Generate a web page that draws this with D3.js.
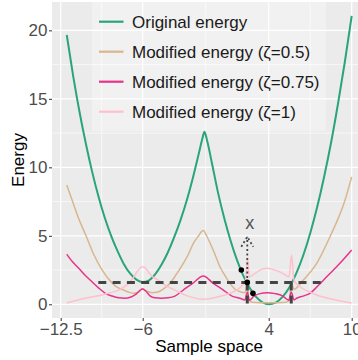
<!DOCTYPE html>
<html>
<head>
<meta charset="utf-8">
<script src="https://cdn.jsdelivr.net/npm/d3@7"></script>
<style>
body { margin: 0; background: #fff; }
svg { display: block; font-family: "Liberation Sans", Arial, sans-serif; }
</style>
</head>
<body>
<svg id="chart"></svg>
<script>
// ticks
var xTicks = [-12.5, -6, 4, 10]
var xMinor = [-9.25, -1, 7]
var yTicks = [0, 5, 10, 15, 20]
var yMinor = [2.5, 7.5, 12.5, 17.5]

// original energy
var origX = [-12.02, -11.5, -11, -10.5, -10, -9.5, -9, -8.5, -8, -7.5, -7, -6.5, -6, -5.5, -5, -4.5, -4, -3.5, -3, -2.5, -2, -1.5, -1.25, -1.1, -0.9, -0.5, 0, 0.5, 1, 1.5, 2, 2.5, 3, 3.5, 4, 4.5, 5, 5.5, 6, 6.5, 7, 7.5, 8, 8.5, 9, 9.5, 10]
var origY = [19.66, 16.6, 14.0, 11.7, 9.65, 7.85, 6.3, 5.0, 3.9, 2.95, 2.25, 1.8, 1.62, 1.75, 2.2, 2.9, 3.8, 4.9, 6.15, 7.6, 9.3, 11.2, 12.15, 12.6, 12.0, 10.28, 8.06, 6.19, 4.57, 3.19, 2.06, 1.18, 0.54, 0.15, 0.0, 0.12, 0.54, 1.25, 2.28, 3.58, 5.19, 7.08, 9.28, 11.76, 14.59, 17.67, 21.05]

// modified energy zeta = 0.5
var z05X = [-12.02, -11.6, -11.05, -10.49, -9.86, -9.21, -8.47, -8.04, -7.51, -7.09, -6.69, -6.37, -6.02, -5.66, -5.26, -4.79, -4.31, -3.83, -3.32, -2.78, -2.4, -1.98, -1.61, -1.19, -0.9, -0.52, -0.18, 0.13, 0.53, 0.93, 1.33, 1.72, 2.12, 2.3, 2.43, 2.67, 3.31, 4.02, 4.67, 5.25, 5.5, 5.63, 5.83, 6.5, 7.47, 8.43, 9.52, 10]
var z05Y = [8.71, 7.61, 6.2, 5.0, 3.6, 2.5, 1.6, 1.25, 1.04, 0.88, 0.8, 0.88, 1.15, 0.95, 0.85, 0.9, 1.15, 1.53, 2.2, 2.99, 3.6, 4.45, 4.95, 5.38, 4.95, 4.2, 3.45, 2.74, 2.1, 1.53, 1.1, 0.92, 0.85, 1.5, 0.3, 0.15, 0.12, 0.12, 0.12, 0.15, 0.3, 1.6, 1.1, 1.77, 2.99, 4.93, 7.61, 9.3]

// modified energy zeta = 0.75
var z075X = [-12.02, -11.56, -11.07, -10.57, -10.02, -9.5, -8.96, -8.43, -7.9, -7.4, -6.98, -6.59, -6.29, -6.02, -5.74, -5.42, -5.02, -4.49, -3.99, -3.44, -2.78, -2.01, -1.19, -0.42, 0.4, 1.09, 1.72, 2.12, 2.3, 2.47, 2.83, 3.31, 3.89, 4.46, 5.03, 5.45, 5.63, 5.83, 6.02, 6.48, 6.99, 7.56, 8.19, 9.15, 10]
var z075Y = [3.65, 3.1, 2.63, 2.12, 1.65, 1.2, 0.8, 0.6, 0.47, 0.44, 0.51, 0.7, 0.95, 1.12, 0.95, 0.62, 0.47, 0.44, 0.47, 0.6, 1.04, 1.55, 2.07, 1.55, 1.04, 0.6, 0.44, 0.32, 0.9, 0.3, 0.6, 0.78, 0.85, 0.78, 0.6, 0.3, 0.9, 0.32, 0.44, 0.6, 0.8, 1.35, 2.01, 2.99, 3.96]

// modified energy zeta = 1
var z1X = [-12.02, -11.29, -10.55, -9.86, -9.23, -8.59, -7.9, -7.48, -7.11, -6.77, -6.45, -6.21, -6.02, -5.82, -5.58, -5.26, -4.76, -4.15, -3.44, -2.56, -1.85, -1.19, -0.58, -0.02, 0.93, 1.48, 1.88, 2.16, 2.32, 2.47, 2.83, 3.31, 3.89, 4.46, 5.11, 5.47, 5.65, 5.83, 6.26, 6.84, 7.47, 8.43, 9.3, 10]
var z1Y = [0.1, 0.28, 0.44, 0.57, 0.68, 0.84, 1.04, 1.28, 1.53, 1.9, 2.38, 2.65, 2.75, 2.68, 2.4, 2.05, 1.77, 1.35, 1.04, 0.65, 0.45, 0.36, 0.42, 0.55, 0.8, 1.05, 1.35, 1.75, 3.3, 2.0, 2.2, 2.5, 2.63, 2.5, 2.2, 2.0, 3.6, 1.75, 1.28, 0.95, 0.68, 0.4, 0.22, 0.1]

var seriesNames = ["Original energy", "Modified energy (\u03b6=0.5)", "Modified energy (\u03b6=0.75)", "Modified energy (\u03b6=1)"]
var seriesColors = ["#29a47b", "#d8b68e", "#e8338b", "#ffc0cb"]

// annotation values
var level = 1.6
var levelFrom = -9.52, levelTo = 8.19
var cutX = [2.3, 5.63]
var arrowTop = 4.93
var dotX = [1.83, 2.3, 2.75]
var dotY = [2.5, 1.6, 0.8]

var screen = {width: 358, height: 360}
var panel = {left: 52, right: 366, top: 2, bottom: 318}

var svg = d3.select("#chart")
    .attr("width", screen.width)
    .attr("height", screen.height)

var xScale = d3.scaleLinear()
    .domain([-12.5, -6, 4, 10])
    .range([60.7, 142.7, 268.7, 351.7])
var yScale = d3.scaleLinear()
    .domain([-1.0, 22.07])
    .range([panel.bottom, panel.top])

// panel background
svg.append("rect")
    .attr("x", panel.left).attr("y", panel.top)
    .attr("width", panel.right - panel.left)
    .attr("height", panel.bottom - panel.top)
    .attr("fill", "#ebebeb")

var grid = svg.append("g").attr("stroke", "#fff").attr("fill", "none")
grid.selectAll(".ymin").data(yMinor).enter().append("line")
    .attr("x1", panel.left).attr("x2", panel.right)
    .attr("y1", function(d){return yScale(d)}).attr("y2", function(d){return yScale(d)})
    .attr("stroke-width", 0.6)
grid.selectAll(".xmin").data(xMinor).enter().append("line")
    .attr("y1", panel.top).attr("y2", panel.bottom)
    .attr("x1", function(d){return xScale(d)}).attr("x2", function(d){return xScale(d)})
    .attr("stroke-width", 0.6)
grid.selectAll(".ymaj").data(yTicks).enter().append("line")
    .attr("x1", panel.left).attr("x2", panel.right)
    .attr("y1", function(d){return yScale(d)}).attr("y2", function(d){return yScale(d)})
    .attr("stroke-width", 1.2)
grid.selectAll(".xmaj").data(xTicks).enter().append("line")
    .attr("y1", panel.top).attr("y2", panel.bottom)
    .attr("x1", function(d){return xScale(d)}).attr("x2", function(d){return xScale(d)})
    .attr("stroke-width", 1.2)

// legend box (drawn under the curves, semi transparent)
svg.append("rect")
    .attr("x", 92).attr("y", 0)
    .attr("width", 234).attr("height", 131)
    .attr("fill", "#ffffff").attr("fill-opacity", 0.3)

// curves
var line = d3.line()
    .x(function(d){return xScale(d[0])})
    .y(function(d){return yScale(d[1])})
    .curve(d3.curveMonotoneX)

var allSeries = [[origX, origY], [z05X, z05Y], [z075X, z075Y], [z1X, z1Y]]
var widths = [2, 1.5, 1.5, 1.5]

svg.append("g").selectAll("path")
    .data(allSeries)
    .enter()
    .append("path")
    .attr("fill", "none")
    .attr("stroke", function(d, i){return seriesColors[i]})
    .attr("stroke-width", function(d, i){return widths[i]})
    .attr("d", function(s){return line(d3.zip(s[0], s[1]))})

// annotation
var ann = svg.append("g").attr("stroke", "#444").attr("fill", "none")
ann.append("line")
    .attr("x1", xScale(levelFrom)).attr("x2", xScale(levelTo))
    .attr("y1", yScale(level)).attr("y2", yScale(level))
    .attr("stroke-width", 3).attr("stroke-dasharray", "8,6.3")
ann.selectAll(".cut").data(cutX).enter().append("line")
    .attr("x1", function(d){return xScale(d)}).attr("x2", function(d){return xScale(d)})
    .attr("y1", yScale(level)).attr("y2", yScale(0) + 1)
    .attr("stroke-width", 3).attr("stroke-dasharray", "8,5")
// dotted arrow
var ax = xScale(cutX[0]), ay = yScale(arrowTop)
ann.append("line")
    .attr("x1", ax).attr("x2", ax)
    .attr("y1", yScale(level)).attr("y2", ay)
    .attr("stroke-width", 1.8).attr("stroke-dasharray", "2,2.5")
ann.append("path")
    .attr("d", "M" + (ax - 6) + "," + (ay + 10) + "L" + ax + "," + ay + "L" + (ax + 6) + "," + (ay + 10))
    .attr("stroke-width", 1.8).attr("stroke-dasharray", "2,2.5")
svg.append("text")
    .attr("x", ax + 2.5).attr("y", ay - 8)
    .attr("text-anchor", "middle")
    .attr("font-size", 18).attr("fill", "#555")
    .text("x")

svg.append("g").selectAll("circle")
    .data(d3.zip(dotX, dotY))
    .enter()
    .append("circle")
    .attr("cx", function(d){return xScale(d[0])})
    .attr("cy", function(d){return yScale(d[1])})
    .attr("r", 2.8)
    .attr("fill", "#000")

// legend entries
var legend = svg.append("g")
legend.selectAll("line").data(seriesNames).enter().append("line")
    .attr("x1", 99).attr("x2", 123.5)
    .attr("y1", function(d, i){return 21.7 + i * 30})
    .attr("y2", function(d, i){return 21.7 + i * 30})
    .attr("stroke", function(d, i){return seriesColors[i]})
    .attr("stroke-width", 2.2)
legend.selectAll("text").data(seriesNames).enter().append("text")
    .attr("x", 132)
    .attr("y", function(d, i){return 21.7 + i * 30 + 6.2})
    .attr("font-size", 17).attr("fill", "#1a1a1a")
    .text(function(d){return d})

// axes
var xAxis = d3.axisBottom(xScale).tickValues(xTicks).tickSize(3).tickPadding(2)
    .tickFormat(d3.format("~g"))
var yAxis = d3.axisLeft(yScale).tickValues(yTicks).tickSize(3).tickPadding(1.5)

var gx = svg.append("g").attr("transform", "translate(0," + panel.bottom + ")").call(xAxis)
var gy = svg.append("g").attr("transform", "translate(" + panel.left + ",0)").call(yAxis)
;[gx, gy].forEach(function(g){
    g.select(".domain").remove()
    g.selectAll(".tick line").attr("stroke", "#333")
    g.selectAll(".tick text").attr("fill", "#4d4d4d").attr("font-size", 17)
        .attr("font-family", "Liberation Sans, Arial, sans-serif")
})

svg.append("text")
    .attr("x", 209).attr("y", 352)
    .attr("text-anchor", "middle").attr("font-size", 17).attr("fill", "#000")
    .text("Sample space")
svg.append("text")
    .attr("transform", "translate(24,160) rotate(-90)")
    .attr("text-anchor", "middle").attr("font-size", 17).attr("fill", "#000")
    .text("Energy")
</script>
</body>
</html>
